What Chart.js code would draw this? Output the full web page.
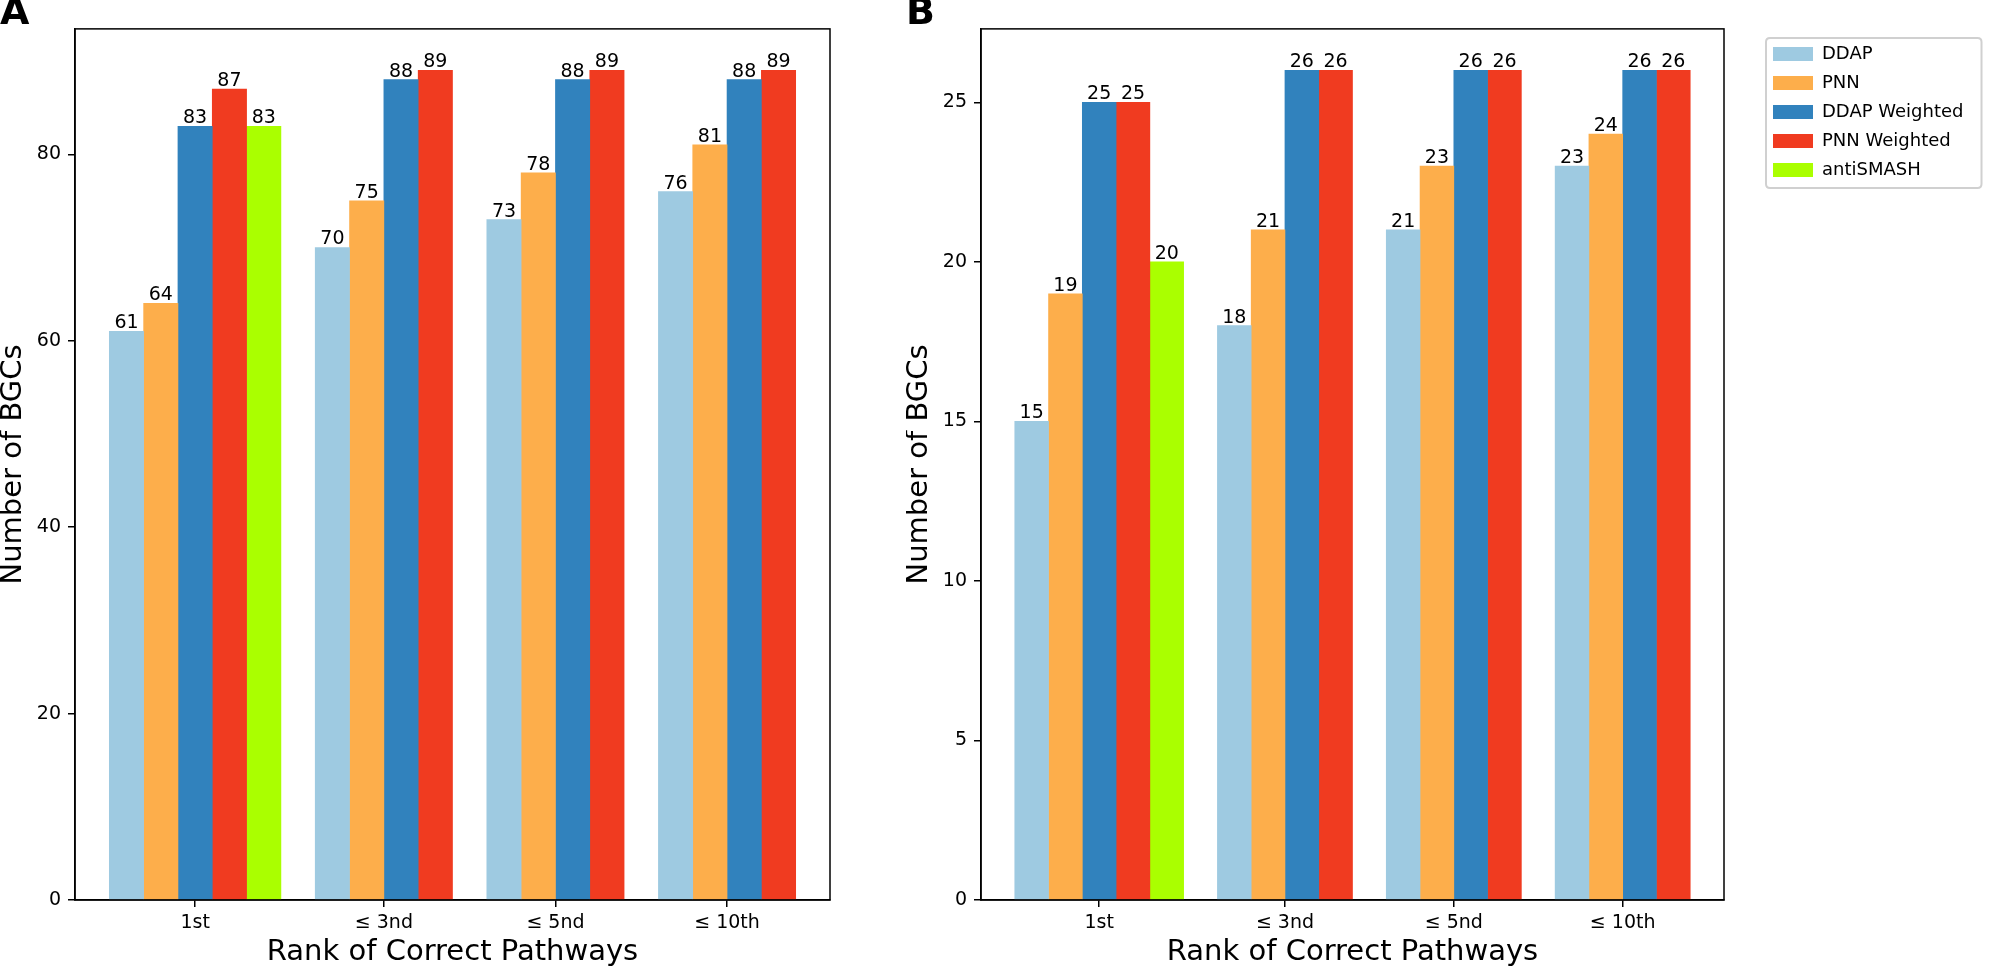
<!DOCTYPE html>
<html>
<head>
<meta charset="utf-8">
<script src="https://cdn.jsdelivr.net/npm/chart.js@4.4.1/dist/chart.umd.min.js"></script>
<style>
  html, body { margin: 0; padding: 0; background: #fff; }
  body { width: 2001px; height: 970px; position: relative; overflow: hidden; }
  canvas { position: absolute; top: 0; }
  #chartA { left: 0; }
  #chartB { left: 906px; }
</style>
</head>
<body>
<canvas id="chartA" width="880" height="970"></canvas>
<canvas id="chartB" width="1095" height="970"></canvas>
<script>
// categories and their positions on the x axis (first group is wider: 5 bars)
const categories = ['1st', '≤ 3nd', '≤ 5nd', '≤ 10th'];
const groupX = [0, 1.1, 2.1, 3.1];
const seriesNames = ['DDAP', 'PNN', 'DDAP Weighted', 'PNN Weighted', 'antiSMASH'];
const seriesColors = ['#9ecae1', '#fdae4b', '#3182bd', '#f03b20', '#aaff00'];

// panel A
const ddapA = [61, 70, 73, 76];
const pnnA = [64, 75, 78, 81];
const ddapWeightedA = [83, 88, 88, 88];
const pnnWeightedA = [87, 89, 89, 89];
const antiSmashA = [83, null, null, null];
const yTicksA = [0, 20, 40, 60, 80];

// panel B
const ddapB = [15, 18, 21, 23];
const pnnB = [19, 21, 23, 24];
const ddapWeightedB = [25, 26, 26, 26];
const pnnWeightedB = [25, 26, 26, 26];
const antiSmashB = [20, null, null, null];
const yTicksB = [0, 5, 10, 15, 20, 25];

const barWidth = 0.2;

Chart.defaults.font.family = "'DejaVu Sans', sans-serif";
Chart.defaults.color = '#000';

function buildDatasets(series) {
  // number of bars present in each group, bars are centred on the tick
  const counts = groupX.map((_, g) => series.filter(s => s[g] != null).length);
  return series.map((vals, s) => {
    const data = [];
    vals.forEach((v, g) => {
      if (v == null) return;
      const slot = series.slice(0, s).filter(o => o[g] != null).length;
      data.push({ x: groupX[g] + (slot - (counts[g] - 1) / 2) * barWidth, y: v });
    });
    return {
      label: seriesNames[s],
      data: data,
      backgroundColor: seriesColors[s],
      borderWidth: 0,
      grouped: false,
      barPercentage: 1,
      categoryPercentage: 1
    };
  });
}

// box round the plot area
const frame = {
  id: 'frame',
  afterDraw(chart) {
    const { ctx, chartArea: a } = chart;
    ctx.save();
    ctx.strokeStyle = '#000';
    ctx.lineWidth = 1.5;
    ctx.strokeRect(a.left, a.top, a.right - a.left, a.bottom - a.top);
    ctx.restore();
  }
};

// numbers on top of bars
const valueLabels = {
  id: 'valueLabels',
  afterDatasetsDraw(chart) {
    const ctx = chart.ctx;
    ctx.save();
    ctx.font = "19px 'DejaVu Sans'";
    ctx.fillStyle = '#000';
    ctx.textAlign = 'center';
    ctx.textBaseline = 'alphabetic';
    chart.data.datasets.forEach((ds, i) => {
      chart.getDatasetMeta(i).data.forEach((el, j) => {
        ctx.fillText(String(ds.data[j].y), el.x, el.y - 3);
      });
    });
    ctx.restore();
  }
};

const legendFont = 18, legendPad = 11, legendBoxW = 40, legendBoxH = 14;

// move the legend away from the axes and give it a matplotlib style frame
const legendFrame = {
  id: 'legendFrame',
  afterLayout(chart) {
    const lg = chart.legend;
    lg.left += 38; lg.right += 38;
    lg.top += 5; lg.bottom += 5;
  },
  afterDraw(chart) {
    const lg = chart.legend;
    const ctx = chart.ctx;
    const itemH = Math.max(legendFont, legendBoxH);
    const n = lg.legendItems.length;
    const c0 = lg.top + legendPad + itemH / 2;
    const x0 = lg.left + legendPad - 7;
    const x1 = lg.left + lg.width + 8;
    const y0 = c0 - 16;
    const y1 = c0 + (n - 1) * (itemH + legendPad) + 18;
    const r = 4;
    ctx.save();
    ctx.strokeStyle = '#d0d0d0';
    ctx.lineWidth = 2;
    ctx.beginPath();
    ctx.moveTo(x0 + r, y0);
    ctx.lineTo(x1 - r, y0);
    ctx.quadraticCurveTo(x1, y0, x1, y0 + r);
    ctx.lineTo(x1, y1 - r);
    ctx.quadraticCurveTo(x1, y1, x1 - r, y1);
    ctx.lineTo(x0 + r, y1);
    ctx.quadraticCurveTo(x0, y1, x0, y1 - r);
    ctx.lineTo(x0, y0 + r);
    ctx.quadraticCurveTo(x0, y0, x0 + r, y0);
    ctx.closePath();
    ctx.stroke();
    ctx.restore();
  }
};

const axisLine = { display: true, color: '#000', width: 1.5 };
const tickMarks = { display: true, drawOnChartArea: false, drawTicks: true, tickLength: 7, color: '#000', lineWidth: 1.5, offset: false };

function makeChart(id, panel, series, yTicks, withLegend, padRight) {
  const all = series.flat().filter(v => v != null);
  const yMax = Math.max(...all) * 1.05;
  return new Chart(document.getElementById(id), {
    type: 'bar',
    data: { datasets: buildDatasets(series) },
    options: {
      responsive: false,
      animation: false,
      devicePixelRatio: 1,
      layout: { padding: { top: 0, left: 0, bottom: 0, right: padRight } },
      plugins: {
        title: {
          display: true,
          text: panel,
          align: 'start',
          color: '#000',
          font: { size: 38, weight: 'bold', lineHeight: 0.76 },
          padding: 0
        },
        legend: {
          display: withLegend,
          position: 'right',
          align: 'start',
          fullSize: false,
          labels: {
            boxWidth: legendBoxW,
            boxHeight: legendBoxH,
            padding: legendPad,
            color: '#000',
            font: { size: legendFont }
          }
        },
        tooltip: { enabled: false }
      },
      scales: {
        x: {
          type: 'linear',
          min: -0.7,
          max: 3.7,
          offset: false,
          afterBuildTicks: s => { s.ticks = groupX.map(v => ({ value: v })); },
          afterFit: s => { s.height = 70; },
          ticks: {
            callback: (v, i) => categories[i],
            autoSkip: false,
            maxRotation: 0,
            padding: 5,
            color: '#000',
            font: { size: 19 }
          },
          grid: tickMarks,
          border: axisLine,
          title: {
            display: true,
            text: 'Rank of Correct Pathways',
            color: '#000',
            font: { size: 29 },
            padding: { top: 0, bottom: 0 }
          }
        },
        y: {
          min: 0,
          max: yMax,
          afterBuildTicks: s => { s.ticks = yTicks.map(v => ({ value: v })); },
          afterFit: s => { s.width = 75; },
          ticks: { padding: 7, color: '#000', font: { size: 19 } },
          grid: tickMarks,
          border: axisLine,
          title: {
            display: true,
            text: 'Number of BGCs',
            color: '#000',
            font: { size: 29, lineHeight: 0.9 },
            padding: 0
          }
        }
      }
    },
    plugins: withLegend ? [frame, valueLabels, legendFrame] : [frame, valueLabels]
  });
}

// chart A: plot area right edge at 830
makeChart('chartA', 'A', [ddapA, pnnA, ddapWeightedA, pnnWeightedA, antiSmashA], yTicksA, false, 50);

// chart B: legend sits to the right, plot area right edge should land at 828 inside the canvas
const mctx = document.createElement('canvas').getContext('2d');
mctx.font = legendFont + "px 'DejaVu Sans', sans-serif";
const maxText = Math.max(...seriesNames.map(t => mctx.measureText(t).width));
const legendW = legendPad + legendBoxW + legendFont / 2 + maxText;
const padRightB = Math.max(0, 1095 - 828 - legendW);
makeChart('chartB', 'B', [ddapB, pnnB, ddapWeightedB, pnnWeightedB, antiSmashB], yTicksB, true, padRightB);
</script>
</body>
</html>
